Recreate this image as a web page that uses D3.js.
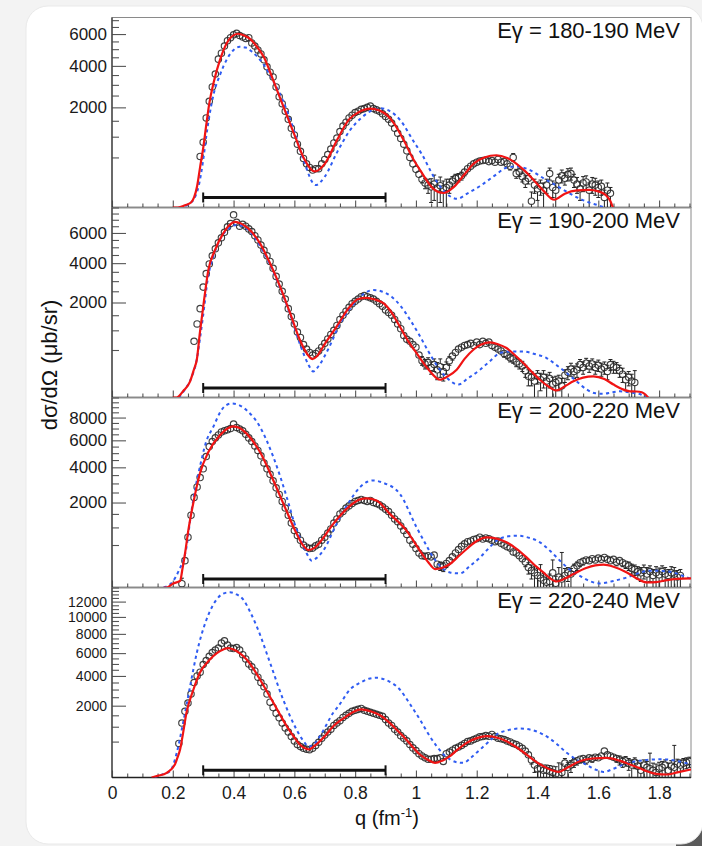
<!DOCTYPE html>
<html>
<head>
<meta charset="utf-8">
<script src="https://cdn.jsdelivr.net/npm/d3@7"></script>
<style>
  html, body { margin: 0; padding: 0; background: #f3f3f3; }
  svg { display: block; font-family: "Liberation Sans", Arial, Helvetica, sans-serif; }
</style>
</head>
<body>
<svg id="chart" width="702" height="846"></svg>
<script>
// ---- energy bins and axis settings ----
const energyBins = ["Eγ = 180-190 MeV", "Eγ = 190-200 MeV", "Eγ = 200-220 MeV", "Eγ = 220-240 MeV"];
const yMaxima = [7200, 8000, 10000, 14000];
const yLabelTicks = [
  [2000, 4000, 6000],
  [2000, 4000, 6000],
  [2000, 4000, 6000, 8000],
  [2000, 4000, 6000, 8000, 10000, 12000]
];
const yLabelSizes = [17, 17, 17, 14];
const qTicks = [0, 0.2, 0.4, 0.6, 0.8, 1, 1.2, 1.4, 1.6, 1.8];
const qTickLabels = ["0", "0.2", "0.4", "0.6", "0.8", "1", "1.2", "1.4", "1.6", "1.8"];
const fitRange = [0.3, 0.9];   // q interval used in the fit
const fitRangeLevel = 20;      // drawn at this cross-section level

// ---- measured cross sections [q, dσ/dΩ, error] ----
const points180 = [
[0.29,520,40],[0.30,850,50],[0.31,1600,60],[0.32,2250,70],[0.33,2900,80],[0.34,3550,80],[0.35,4390,90],[0.36,4750,90],[0.37,5200,100],[0.38,5550,100],
[0.39,5750,100],[0.40,5950,100],[0.41,6050,100],[0.42,5900,100],[0.43,5800,100],[0.44,5700,100],[0.45,5750,100],[0.46,5400,100],[0.47,5200,100],[0.48,4950,90],
[0.49,4700,90],[0.50,4350,90],[0.51,3950,80],[0.52,3650,80],[0.53,3400,80],[0.54,2900,70],[0.55,2450,70],[0.56,2150,60],[0.57,1850,60],[0.58,1550,50],
[0.59,1250,50],[0.60,1050,40],[0.61,800,40],[0.62,630,30],[0.63,480,30],[0.64,380,30],[0.65,320,30],[0.66,280,30],[0.67,300,30],[0.68,300,30],
[0.69,380,30],[0.70,460,30],[0.71,560,30],[0.72,680,40],[0.73,830,40],[0.74,960,40],[0.75,1150,50],[0.76,1320,50],[0.77,1450,50],[0.78,1600,50],
[0.79,1700,60],[0.80,1800,60],[0.81,1850,60],[0.82,1920,60],[0.83,1950,60],[0.84,2000,60],[0.85,2050,60],[0.86,1950,60],[0.87,1900,60],[0.88,1850,60],
[0.89,1750,60],[0.90,1650,60],[0.91,1550,50],[0.92,1420,50],[0.93,1250,50],[0.94,1100,50],[0.95,950,40],[0.96,800,40],[0.97,640,40],[0.98,500,40],
[0.99,380,30],[1.00,290,40],[1.01,220,40],[1.02,160,40],[1.03,120,50],[1.04,100,60],[1.05,85,80],[1.06,110,100],[1.07,75,75],[1.08,95,90],
[1.09,70,70],[1.10,80,80],[1.11,100,60],[1.12,140,50],[1.13,170,50],[1.14,180,50],[1.15,200,50],[1.16,250,50],[1.17,300,50],[1.18,340,50],
[1.19,380,50],[1.20,410,50],[1.21,430,50],[1.22,440,50],[1.23,450,50],[1.24,420,50],[1.25,440,50],[1.26,410,50],[1.27,460,50],[1.28,410,50],
[1.29,420,50],[1.30,380,50],[1.31,340,60],[1.32,500,80],[1.33,230,60],[1.34,250,60],[1.35,190,60],[1.36,140,60],[1.37,170,60],[1.38,8,40],
[1.39,100,60],[1.40,70,60],[1.41,90,60],[1.42,60,60],[1.43,100,60],[1.44,230,80],[1.45,80,60],[1.46,60,60],[1.47,150,70],[1.48,200,80],
[1.49,170,70],[1.50,220,80],[1.51,230,80],[1.52,150,70],[1.53,110,70],[1.54,70,60],[1.55,120,70],[1.56,130,70],[1.57,60,60],[1.58,110,70],
[1.59,100,70],[1.60,80,60],[1.61,90,60],[1.62,20,40],[1.63,60,60],[1.64,40,40]
];
const points190 = [
[0.27,700,60],[0.28,1200,60],[0.29,1750,70],[0.30,2700,80],[0.31,3400,80],[0.32,3950,90],[0.33,4450,90],[0.34,4900,100],[0.35,5300,100],[0.36,5650,100],
[0.37,6050,100],[0.38,6450,110],[0.39,6700,110],[0.40,7400,120],[0.41,6800,110],[0.42,6500,110],[0.43,6650,110],[0.44,6500,110],[0.45,6300,110],[0.46,6100,110],
[0.47,5800,100],[0.48,5500,100],[0.49,5150,100],[0.50,4800,100],[0.51,4450,90],[0.52,4100,90],[0.53,3700,90],[0.54,3250,80],[0.55,2850,80],[0.56,2500,70],
[0.57,2150,70],[0.58,1750,60],[0.59,1450,60],[0.60,1200,50],[0.61,950,50],[0.62,800,40],[0.63,620,40],[0.64,520,40],[0.65,450,40],[0.66,400,40],
[0.67,430,40],[0.68,480,40],[0.69,560,40],[0.70,650,40],[0.71,760,50],[0.72,880,50],[0.73,1000,50],[0.74,1150,50],[0.75,1350,60],[0.76,1500,60],
[0.77,1650,60],[0.78,1800,60],[0.79,1950,60],[0.80,2050,70],[0.81,2150,70],[0.82,2250,70],[0.83,2300,70],[0.84,2250,70],[0.85,2200,70],[0.86,2150,70],
[0.87,2050,70],[0.88,1950,60],[0.89,1850,60],[0.90,1700,60],[0.91,1600,60],[0.92,1500,60],[0.93,1350,60],[0.94,1200,50],[0.95,1050,50],[0.96,850,50],
[0.97,750,50],[0.98,700,60],[0.99,620,60],[1.00,560,60],[1.01,400,60],[1.02,300,70],[1.03,250,70],[1.04,270,80],[1.05,200,80],[1.06,240,90],
[1.07,170,100],[1.08,210,120],[1.09,150,90],[1.10,200,80],[1.11,300,70],[1.12,380,70],[1.13,450,70],[1.14,520,70],[1.15,560,70],[1.16,600,70],
[1.17,620,70],[1.18,650,70],[1.19,600,70],[1.20,680,70],[1.21,620,70],[1.22,700,70],[1.23,650,70],[1.24,680,70],[1.25,600,70],[1.26,560,70],
[1.27,520,70],[1.28,480,70],[1.29,430,70],[1.30,400,70],[1.31,350,70],[1.32,330,70],[1.33,280,70],[1.34,250,70],[1.35,220,70],[1.36,160,70],
[1.37,100,70],[1.38,90,60],[1.39,60,60],[1.40,100,60],[1.41,70,60],[1.42,90,70],[1.43,60,60],[1.44,80,60],[1.45,40,50],[1.46,50,50],
[1.47,60,50],[1.48,30,50],[1.49,110,60],[1.50,140,70],[1.51,180,80],[1.52,150,70],[1.53,170,80],[1.54,240,80],[1.55,200,80],[1.56,260,80],
[1.57,220,80],[1.58,250,80],[1.59,200,80],[1.60,230,80],[1.61,180,80],[1.62,200,80],[1.63,150,80],[1.64,240,80],[1.65,210,80],[1.66,200,70],
[1.67,160,70],[1.68,120,70],[1.69,70,60],[1.70,90,60],[1.71,60,60],[1.72,50,110]
];
const points200 = [
[0.23,4,20],[0.24,200,40],[0.25,700,50],[0.26,1450,60],[0.27,2250,70],[0.28,2800,80],[0.29,3350,90],[0.30,3900,100],[0.31,4750,100],[0.32,5500,110],
[0.33,5900,110],[0.34,6200,120],[0.35,6450,120],[0.36,6700,120],[0.37,6800,120],[0.38,6900,120],[0.39,7000,120],[0.40,7400,130],[0.41,7100,120],[0.42,6950,120],
[0.43,6800,120],[0.44,6500,120],[0.45,6200,120],[0.46,5900,110],[0.47,5550,110],[0.48,5200,110],[0.49,4800,100],[0.50,4300,100],[0.51,3900,90],[0.52,3550,90],
[0.53,3150,80],[0.54,2750,80],[0.55,2400,70],[0.56,2050,70],[0.57,1750,60],[0.58,1450,60],[0.59,1150,50],[0.60,900,50],[0.61,750,40],[0.62,620,40],
[0.63,500,40],[0.64,450,40],[0.65,420,40],[0.66,430,40],[0.67,480,40],[0.68,520,40],[0.69,620,40],[0.70,700,40],[0.71,820,50],[0.72,950,50],
[0.73,1150,50],[0.74,1300,50],[0.75,1500,60],[0.76,1600,60],[0.77,1750,60],[0.78,1850,60],[0.79,1950,60],[0.80,2050,70],[0.81,2100,70],[0.82,2150,70],
[0.83,2100,70],[0.84,2050,70],[0.85,2100,70],[0.86,2000,70],[0.87,1950,70],[0.88,1900,60],[0.89,1800,60],[0.90,1700,60],[0.91,1600,60],[0.92,1450,60],
[0.93,1300,50],[0.94,1200,50],[0.95,1050,50],[0.96,900,50],[0.97,780,40],[0.98,620,40],[0.99,520,40],[1.00,420,40],[1.01,330,40],[1.02,280,40],
[1.03,270,40],[1.04,280,40],[1.05,260,40],[1.06,290,40],[1.07,150,50],[1.08,130,50],[1.09,120,50],[1.10,160,50],[1.11,200,50],[1.12,260,50],
[1.13,330,50],[1.14,400,50],[1.15,470,50],[1.16,530,50],[1.17,580,50],[1.18,600,50],[1.19,640,50],[1.20,660,50],[1.21,700,50],[1.22,650,50],
[1.23,680,50],[1.24,660,50],[1.25,620,50],[1.26,580,50],[1.27,600,50],[1.28,540,50],[1.29,500,50],[1.30,460,50],[1.31,430,50],[1.32,350,50],
[1.33,330,50],[1.34,280,50],[1.35,230,50],[1.36,180,60],[1.37,110,60],[1.38,80,60],[1.39,60,60],[1.40,40,60],[1.41,25,120],[1.42,15,40],
[1.43,8,30],[1.44,10,40],[1.45,60,150],[1.46,5,30],[1.47,30,80],[1.48,20,320],[1.49,40,60],[1.50,60,50],[1.51,50,50],[1.52,100,50],
[1.53,130,50],[1.54,170,50],[1.55,190,50],[1.56,210,50],[1.57,200,50],[1.58,230,50],[1.59,210,50],[1.60,240,50],[1.61,220,50],[1.62,250,50],
[1.63,220,50],[1.64,200,50],[1.65,220,50],[1.66,180,50],[1.67,200,50],[1.68,170,50],[1.69,150,50],[1.70,130,50],[1.71,100,50],[1.72,90,50],
[1.73,70,50],[1.74,60,50],[1.75,80,60],[1.76,50,60],[1.77,70,60],[1.78,40,50],[1.79,60,60],[1.80,45,60],[1.81,70,60],[1.82,50,60],
[1.83,40,50],[1.84,60,60],[1.85,50,60],[1.86,30,50],[1.87,40,50]
];
const points220 = [
[0.22,450,50],[0.23,1150,60],[0.24,1700,70],[0.25,2150,80],[0.26,2700,90],[0.27,3500,100],[0.28,4000,100],[0.29,4300,110],[0.30,4950,110],[0.31,5300,120],
[0.32,5700,120],[0.33,6050,120],[0.34,6300,130],[0.35,6500,130],[0.36,7000,130],[0.37,7250,130],[0.38,6800,130],[0.39,6500,130],[0.40,6450,130],[0.41,6550,130],
[0.42,6300,130],[0.43,5850,120],[0.44,5450,120],[0.45,5000,110],[0.46,4750,110],[0.47,4400,100],[0.48,3900,100],[0.49,3500,90],[0.50,3200,90],[0.51,2700,80],
[0.52,2200,70],[0.53,1900,70],[0.54,1600,60],[0.55,1380,60],[0.56,1150,50],[0.57,950,50],[0.58,800,50],[0.59,650,40],[0.60,520,40],[0.61,420,40],
[0.62,370,40],[0.63,330,40],[0.64,310,40],[0.65,300,40],[0.66,330,40],[0.67,400,40],[0.68,480,40],[0.69,600,40],[0.70,700,40],[0.71,800,50],
[0.72,900,50],[0.73,1050,50],[0.74,1150,50],[0.75,1250,50],[0.76,1400,60],[0.77,1500,60],[0.78,1600,60],[0.79,1700,60],[0.80,1750,60],[0.81,1800,60],
[0.82,1850,60],[0.83,1750,60],[0.84,1700,60],[0.85,1650,60],[0.86,1600,60],[0.87,1550,60],[0.88,1500,60],[0.89,1450,60],[0.90,1300,50],[0.91,1150,50],
[0.92,1050,50],[0.93,900,50],[0.94,800,50],[0.95,680,50],[0.96,600,40],[0.97,520,40],[0.98,420,40],[0.99,340,40],[1.00,280,40],[1.01,220,40],
[1.02,180,40],[1.03,150,40],[1.04,130,40],[1.05,130,40],[1.06,140,40],[1.07,140,40],[1.08,150,40],[1.09,100,40],[1.10,220,40],[1.11,250,40],
[1.12,290,40],[1.13,330,40],[1.14,360,40],[1.15,400,50],[1.16,450,50],[1.17,500,50],[1.18,520,50],[1.19,560,50],[1.20,600,50],[1.21,640,50],
[1.22,650,50],[1.23,680,50],[1.24,660,50],[1.25,720,50],[1.26,650,50],[1.27,600,50],[1.28,580,50],[1.29,560,50],[1.30,520,50],[1.31,490,50],
[1.32,450,50],[1.33,420,50],[1.34,380,50],[1.35,330,50],[1.36,270,50],[1.37,200,50],[1.38,120,50],[1.39,60,50],[1.40,30,50],[1.41,30,40],
[1.42,20,40],[1.43,20,40],[1.44,15,40],[1.45,10,40],[1.46,5,40],[1.47,3,80],[1.48,10,60],[1.49,80,60],[1.50,40,50],[1.51,60,50],
[1.52,90,50],[1.53,110,50],[1.54,130,50],[1.55,140,50],[1.56,120,50],[1.57,150,50],[1.58,140,50],[1.59,160,50],[1.60,150,50],[1.61,180,50],
[1.62,270,50],[1.63,200,50],[1.64,180,50],[1.65,160,50],[1.66,140,50],[1.67,120,60],[1.68,100,60],[1.69,110,60],[1.70,80,60],[1.71,60,60],
[1.72,90,60],[1.73,50,60],[1.74,20,60],[1.75,60,60],[1.76,40,60],[1.77,30,200],[1.78,20,60],[1.79,10,60],[1.80,30,60],[1.81,40,60],
[1.82,60,60],[1.83,20,60],[1.84,50,60],[1.85,40,360],[1.86,70,60],[1.87,60,60],[1.88,80,60],[1.89,90,60],[1.90,100,60]
];

// ---- fitted cross sections (solid red) [q, dσ/dΩ] ----
const fit180 = [
[0.20,0],[0.217,0],[0.24,1],[0.26,5],[0.27,20],[0.28,90],[0.29,330],[0.30,700],[0.31,1350],[0.32,2150],[0.335,3150],[0.355,4330],[0.377,5370],
[0.395,5850],[0.415,6020],[0.435,5900],[0.455,5650],[0.475,5200],[0.50,4500],[0.53,3250],[0.565,2000],[0.60,1060],[0.63,500],[0.667,260],
[0.70,380],[0.74,900],[0.78,1550],[0.81,1800],[0.85,1950],[0.88,1880],[0.905,1700],[0.93,1380],[0.96,900],[0.99,480],[1.015,270],
[1.055,75],[1.09,42],[1.125,85],[1.16,220],[1.19,385],[1.225,500],[1.265,545],[1.30,490],[1.33,385],[1.36,260],[1.39,140],[1.42,55],
[1.455,12],[1.49,38],[1.53,58],[1.57,62],[1.60,52],[1.625,30],[1.64,8],[1.648,0]
];
const fit190 = [
[0.20,0],[0.213,0],[0.235,10],[0.257,58],[0.27,180],[0.279,316],[0.289,918],[0.303,2110],[0.317,3600],[0.339,4820],[0.366,5965],[0.385,6550],
[0.405,6840],[0.425,6700],[0.448,6335],[0.487,5260],[0.52,3990],[0.553,2724],[0.586,1576],[0.618,738],[0.64,440],[0.659,328],[0.675,380],
[0.695,577],[0.739,1116],[0.783,1832],[0.81,2150],[0.838,2200],[0.865,2130],[0.893,1970],[0.92,1600],[0.947,1116],[0.975,700],[1.002,438],
[1.04,180],[1.079,70],[1.105,100],[1.134,171],[1.16,330],[1.189,505],[1.215,620],[1.243,671],[1.27,630],[1.298,542],[1.325,400],[1.353,263],
[1.38,150],[1.408,70],[1.435,28],[1.463,11],[1.49,28],[1.518,58],[1.55,88],[1.584,99],[1.62,75],[1.65,37],[1.68,15],[1.704,8.5],[1.725,8],
[1.743,6],[1.755,2],[1.764,0]
];
const fit200 = [
[0.17,0],[0.18,0],[0.20,4],[0.224,12],[0.232,100],[0.24,311],[0.251,896],[0.268,2014],[0.289,3585],[0.317,5080],[0.355,6416],[0.38,7000],
[0.399,7200],[0.42,7050],[0.443,6560],[0.487,5080],[0.531,3174],[0.569,1784],[0.608,795],[0.63,480],[0.646,390],[0.665,430],[0.684,565],
[0.728,1121],[0.772,1713],[0.816,2150],[0.838,2200],[0.87,2100],[0.914,1502],[0.969,896],[1.013,376],[1.04,180],[1.063,94],[1.085,105],
[1.112,153],[1.14,270],[1.167,411],[1.20,600],[1.233,697],[1.265,660],[1.298,565],[1.33,420],[1.364,251],[1.39,140],[1.419,63],[1.44,25],
[1.463,10],[1.49,22],[1.518,50],[1.56,105],[1.59,135],[1.617,144],[1.65,120],[1.694,63],[1.73,20],[1.76,7],[1.79,8],[1.826,15],[1.86,21],[1.905,23]
];
const fit220 = [
[0.13,0],[0.15,1],[0.18,8.5],[0.207,66],[0.215,150],[0.224,304],[0.234,774],[0.245,1623],[0.268,3002],[0.289,4248],[0.322,5398],[0.345,6000],
[0.366,6352],[0.383,6500],[0.40,6352],[0.42,6000],[0.443,5398],[0.465,4600],[0.487,3725],[0.531,2163],[0.575,1020],[0.60,620],[0.618,422],
[0.635,330],[0.649,304],[0.665,380],[0.684,511],[0.705,720],[0.728,1020],[0.75,1250],[0.772,1457],[0.795,1680],[0.82,1800],[0.85,1700],
[0.882,1500],[0.91,1200],[0.935,900],[0.958,661],[0.985,400],[1.013,205],[1.04,120],[1.063,83],[1.087,110],[1.112,176],[1.14,320],[1.167,466],
[1.20,600],[1.233,661],[1.265,620],[1.298,511],[1.33,360],[1.364,205],[1.39,110],[1.419,50],[1.445,22],[1.469,12],[1.50,40],[1.539,103],
[1.58,140],[1.627,150],[1.67,110],[1.704,66],[1.735,35],[1.76,15],[1.79,5],[1.826,3.5],[1.86,10],[1.905,25]
];

// ---- model predictions (dashed blue) [q, dσ/dΩ] ----
const theory180 = [
[0.22,0],[0.25,2],[0.27,15],[0.285,90],[0.30,450],[0.31,1000],[0.32,1650],[0.335,2600],[0.355,3500],[0.38,4450],[0.40,4950],[0.42,5150],
[0.44,5100],[0.46,4850],[0.50,4050],[0.53,3200],[0.56,2350],[0.60,1150],[0.63,450],[0.67,100],[0.70,190],[0.74,600],[0.78,1150],[0.82,1600],
[0.86,1900],[0.885,1960],[0.91,1880],[0.95,1500],[0.99,900],[1.02,560],[1.06,180],[1.10,40],[1.135,15],[1.17,40],[1.21,90],[1.26,205],
[1.30,320],[1.33,335],[1.37,290],[1.42,170],[1.45,115],[1.50,45],[1.54,15],[1.57,5],[1.60,1],[1.62,0]
];
const theory190 = [
[0.22,0],[0.24,15],[0.26,80],[0.28,350],[0.29,800],[0.30,1500],[0.315,3100],[0.335,4500],[0.36,5700],[0.385,6350],[0.41,6600],[0.435,6450],
[0.46,5950],[0.49,5000],[0.52,3900],[0.555,2600],[0.59,1400],[0.62,600],[0.645,250],[0.662,150],[0.68,220],[0.71,500],[0.75,1200],[0.79,1850],
[0.83,2400],[0.86,2560],[0.89,2480],[0.92,2250],[0.95,1850],[0.98,1350],[1.01,880],[1.04,480],[1.07,220],[1.10,90],[1.14,37],[1.17,80],
[1.211,171],[1.245,300],[1.276,438],[1.31,470],[1.353,470],[1.39,420],[1.43,345],[1.46,240],[1.496,133],[1.53,55],[1.562,14],[1.59,4],
[1.617,3],[1.645,6],[1.671,8.5],[1.71,5],[1.74,2],[1.76,0]
];
const theory200 = [
[0.17,0],[0.20,10],[0.22,80],[0.245,446],[0.26,1500],[0.275,2800],[0.289,4014],[0.31,5900],[0.333,7137],[0.36,8704],[0.375,9200],[0.394,9375],
[0.415,9250],[0.443,8704],[0.487,7137],[0.531,4711],[0.575,2258],[0.60,1150],[0.618,697],[0.64,330],[0.657,199],[0.675,250],[0.695,376],
[0.739,1121],[0.783,2096],[0.816,2788],[0.84,3100],[0.86,3174],[0.89,3050],[0.947,2431],[1.002,1004],[1.03,550],[1.057,251],[1.085,110],
[1.112,63],[1.145,55],[1.175,120],[1.211,251],[1.24,430],[1.265,608],[1.30,720],[1.331,745],[1.37,690],[1.408,565],[1.44,380],[1.474,199],
[1.505,90],[1.539,38],[1.57,12],[1.605,4.5],[1.65,12],[1.694,28],[1.73,55],[1.77,78],[1.81,75],[1.846,63],[1.875,40],[1.905,20]
];
const theory220 = [
[0.14,0],[0.17,5],[0.191,15],[0.213,236],[0.234,1160],[0.257,3234],[0.279,6027],[0.311,9680],[0.344,12280],[0.365,13100],[0.388,13314],
[0.41,13000],[0.432,12280],[0.455,10600],[0.476,8876],[0.52,5100],[0.563,2359],[0.607,893],[0.628,540],[0.648,370],[0.665,430],[0.684,661],
[0.728,1623],[0.75,2100],[0.783,3002],[0.816,3478],[0.845,3780],[0.871,3855],[0.90,3700],[0.947,3002],[0.98,2100],[1.013,1304],[1.04,750],
[1.068,381],[1.09,210],[1.112,126],[1.135,90],[1.156,83],[1.18,150],[1.211,304],[1.24,500],[1.265,717],[1.30,860],[1.342,931],[1.38,880],
[1.419,717],[1.46,460],[1.496,236],[1.53,120],[1.562,61],[1.59,25],[1.617,12],[1.65,30],[1.683,66],[1.72,100],[1.76,119],[1.80,128],
[1.826,126],[1.86,105],[1.905,66]
];

const measured = [points180, points190, points200, points220];
const fits = [fit180, fit190, fit200, fit220];
const theories = [theory180, theory190, theory200, theory220];

// ---- layout ----
const plotLeft = 112, plotRight = 691;
const panelTop0 = 17.5, panelH = 190;
const svg = d3.select("#chart");

// card background
svg.append("rect").attr("x", 676).attr("y", 820).attr("width", 26).attr("height", 26).attr("fill", "#5a5a5a");
svg.append("rect").attr("x", 26).attr("y", 6).attr("width", 677).attr("height", 838)
  .attr("rx", 22).attr("fill", "#ffffff").attr("stroke", "#e9e9e9").attr("stroke-width", 1);

const x = d3.scaleLinear().domain([0, 1.905]).range([plotLeft, plotRight]);

const defs = svg.append("defs");

energyBins.forEach((label, i) => {
  const top = panelTop0 + i * panelH;
  const bottom = top + panelH;
  const y = d3.scaleSqrt().domain([0, yMaxima[i]]).range([bottom, top]);
  const g = svg.append("g");

  defs.append("clipPath").attr("id", "clip" + i)
    .append("rect").attr("x", plotLeft).attr("y", top).attr("width", plotRight - plotLeft).attr("height", panelH);

  // frame
  g.append("rect").attr("x", plotLeft).attr("y", top).attr("width", plotRight - plotLeft).attr("height", panelH)
    .attr("fill", "none").attr("stroke", "#8a8a8a").attr("stroke-width", 1);

  // y axis: labelled major ticks and minor ticks every 500
  const minorY = d3.range(500, yMaxima[i] + 1, 500).filter(v => !yLabelTicks[i].includes(v));
  const yMinorAxis = d3.axisLeft(y).tickValues(minorY).tickSize(-7).tickFormat("").tickSizeOuter(0);
  const yMajorAxis = d3.axisLeft(y).tickValues(yLabelTicks[i]).tickSize(-14).tickPadding(5)
    .tickFormat(d3.format("d")).tickSizeOuter(0);
  const gyMinor = g.append("g").attr("transform", `translate(${plotLeft},0)`).call(yMinorAxis);
  const gyMajor = g.append("g").attr("transform", `translate(${plotLeft},0)`).call(yMajorAxis);
  [gyMinor, gyMajor].forEach(a => {
    a.select(".domain").remove();
    a.selectAll(".tick line").attr("stroke", "#555").attr("stroke-width", 1.1);
  });
  gyMajor.selectAll(".tick text").attr("font-size", yLabelSizes[i]).attr("fill", "#1a1a1a")
    .attr("font-family", "'Liberation Sans', Arial, sans-serif");

  // x axis on the bottom edge of each panel
  const minorX = d3.range(0, 1.91, 0.05).filter(v => Math.abs(v * 5 - Math.round(v * 5)) > 1e-6);
  const xMinorAxis = d3.axisBottom(x).tickValues(minorX).tickSize(-4).tickFormat("").tickSizeOuter(0);
  const xMajorAxis = d3.axisBottom(x).tickValues(qTicks).tickSize(-7).tickPadding(9).tickSizeOuter(0)
    .tickFormat((d, k) => i === energyBins.length - 1 ? qTickLabels[k] : "");
  const gxMinor = g.append("g").attr("transform", `translate(0,${bottom})`).call(xMinorAxis);
  const gxMajor = g.append("g").attr("transform", `translate(0,${bottom})`).call(xMajorAxis);
  [gxMinor, gxMajor].forEach(a => {
    a.select(".domain").remove();
    a.selectAll(".tick line").attr("stroke", "#555").attr("stroke-width", 1.1);
  });
  gxMajor.selectAll(".tick text").attr("font-size", 17.5).attr("fill", "#1a1a1a")
    .attr("font-family", "'Liberation Sans', Arial, sans-serif");

  // axis lines
  g.append("line").attr("x1", plotLeft).attr("x2", plotLeft).attr("y1", top).attr("y2", bottom)
    .attr("stroke", "#444").attr("stroke-width", 1.4);
  g.append("line").attr("x1", plotLeft).attr("x2", plotRight).attr("y1", bottom).attr("y2", bottom)
    .attr("stroke", "#222").attr("stroke-width", 1.6);

  const plot = g.append("g").attr("clip-path", `url(#clip${i})`);

  // measured points with error bars
  const r = 3.2;
  const pts = measured[i];
  const eb = plot.append("g").attr("stroke", "#222").attr("stroke-width", 1);
  pts.forEach(([q, v, e]) => {
    const px = x(q), yc = y(v), yt = y(v + e), yb = y(Math.max(v - e, 0));
    if (yc - yt > r + 0.5) {
      eb.append("line").attr("x1", px).attr("x2", px).attr("y1", yt).attr("y2", yc - r);
      eb.append("line").attr("x1", px - 2).attr("x2", px + 2).attr("y1", yt).attr("y2", yt);
    }
    if (yb - yc > r + 0.5) {
      eb.append("line").attr("x1", px).attr("x2", px).attr("y1", yc + r).attr("y2", yb);
      if (v - e > 0) eb.append("line").attr("x1", px - 2).attr("x2", px + 2).attr("y1", yb).attr("y2", yb);
    }
  });
  plot.append("g").selectAll("circle").data(pts).join("circle")
    .attr("cx", d => x(d[0])).attr("cy", d => y(d[1])).attr("r", r)
    .attr("fill", "none").attr("stroke", "#2b2b2b").attr("stroke-width", 1.15).attr("stroke-opacity", 0.9);

  const line = d3.line().x(d => x(d[0])).y(d => y(Math.max(d[1], 0))).curve(d3.curveMonotoneX);

  // model (dashed blue)
  plot.append("path").datum(theories[i]).attr("d", line)
    .attr("fill", "none").attr("stroke", "#2f5cf2").attr("stroke-width", 2)
    .attr("stroke-dasharray", "3.2,3.4");

  // fit (solid red)
  plot.append("path").datum(fits[i]).attr("d", line)
    .attr("fill", "none").attr("stroke", "#f01414").attr("stroke-width", 2.2);

  // fit-range bar
  const by = y(fitRangeLevel);
  g.append("line").attr("x1", x(fitRange[0])).attr("x2", x(fitRange[1])).attr("y1", by).attr("y2", by)
    .attr("stroke", "#111").attr("stroke-width", 3);
  fitRange.forEach(q => {
    g.append("line").attr("x1", x(q)).attr("x2", x(q)).attr("y1", by - 5).attr("y2", by + 5)
      .attr("stroke", "#111").attr("stroke-width", 2);
  });

  // energy bin label
  g.append("text").attr("x", 680).attr("y", top + 20).attr("text-anchor", "end")
    .attr("font-size", 22).attr("fill", "#111").text(label);
});

// axis titles
svg.append("text").attr("transform", "translate(57,365) rotate(-90)").attr("text-anchor", "middle")
  .attr("font-size", 22).attr("fill", "#111").text("dσ/dΩ (μb/sr)");

const xt = svg.append("text").attr("x", 387).attr("y", 825).attr("text-anchor", "middle")
  .attr("font-size", 20).attr("fill", "#111");
xt.append("tspan").text("q (fm");
xt.append("tspan").attr("dy", -8).attr("font-size", 13).text("-1");
xt.append("tspan").attr("dy", 8).text(")");
</script>
</body>
</html>
